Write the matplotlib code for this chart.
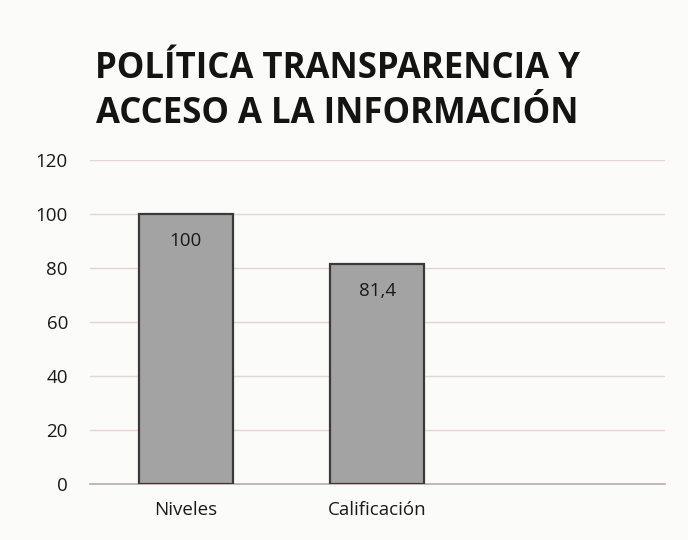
import matplotlib
matplotlib.use("Agg")
import matplotlib.pyplot as plt

plt.rcParams["font.family"] = ["Open Sans", "DejaVu Sans"]

# Data
categories = ["Niveles", "Calificación"]
values = [100, 81.4]
value_labels = ["100", "81,4"]
y_ticks = [0, 20, 40, 60, 80, 100, 120]

fig = plt.figure(figsize=(6.88, 5.4), dpi=100)
fig.patch.set_facecolor("#fbfbfa")
ax = fig.add_axes([0.131, 0.1037, 0.835, 0.6])
ax.set_facecolor("#fbfbfa")

x = range(len(categories))
bars = ax.bar(x, values, width=0.49, color="#a3a3a3",
              edgecolor="#3a3a3a", linewidth=1.6, zorder=3)

for b, lab in zip(bars, value_labels):
    ax.text(b.get_x() + b.get_width() / 2, b.get_height() - 10, lab,
            ha="center", va="center", fontsize=13.5, color="#1a1a1a", zorder=4)

ax.set_xlim(-0.5, 2.5)
ax.set_ylim(0, 120)
ax.set_yticks(y_ticks)
ax.set_xticks(list(x))
ax.set_xticklabels(categories, fontsize=13.5, color="#1a1a1a")
ax.tick_params(axis="y", labelsize=13.5, colors="#1a1a1a", length=0, pad=16)
ax.tick_params(axis="x", length=0, pad=12)

ax.grid(axis="y", color="#e0d6d6", linewidth=1, zorder=0)
for s in ["top", "right", "left"]:
    ax.spines[s].set_visible(False)
ax.spines["bottom"].set_color("#b8aaaa")
ax.spines["bottom"].set_linewidth(1.2)

fig.text(0.49, 0.831, "POLÍTICA TRANSPARENCIA Y\nACCESO A LA INFORMACIÓN",
         ha="center", va="center", fontsize=25, fontweight="bold",
         color="#141414", linespacing=1.35)

fig.savefig("out.png", dpi=100)
